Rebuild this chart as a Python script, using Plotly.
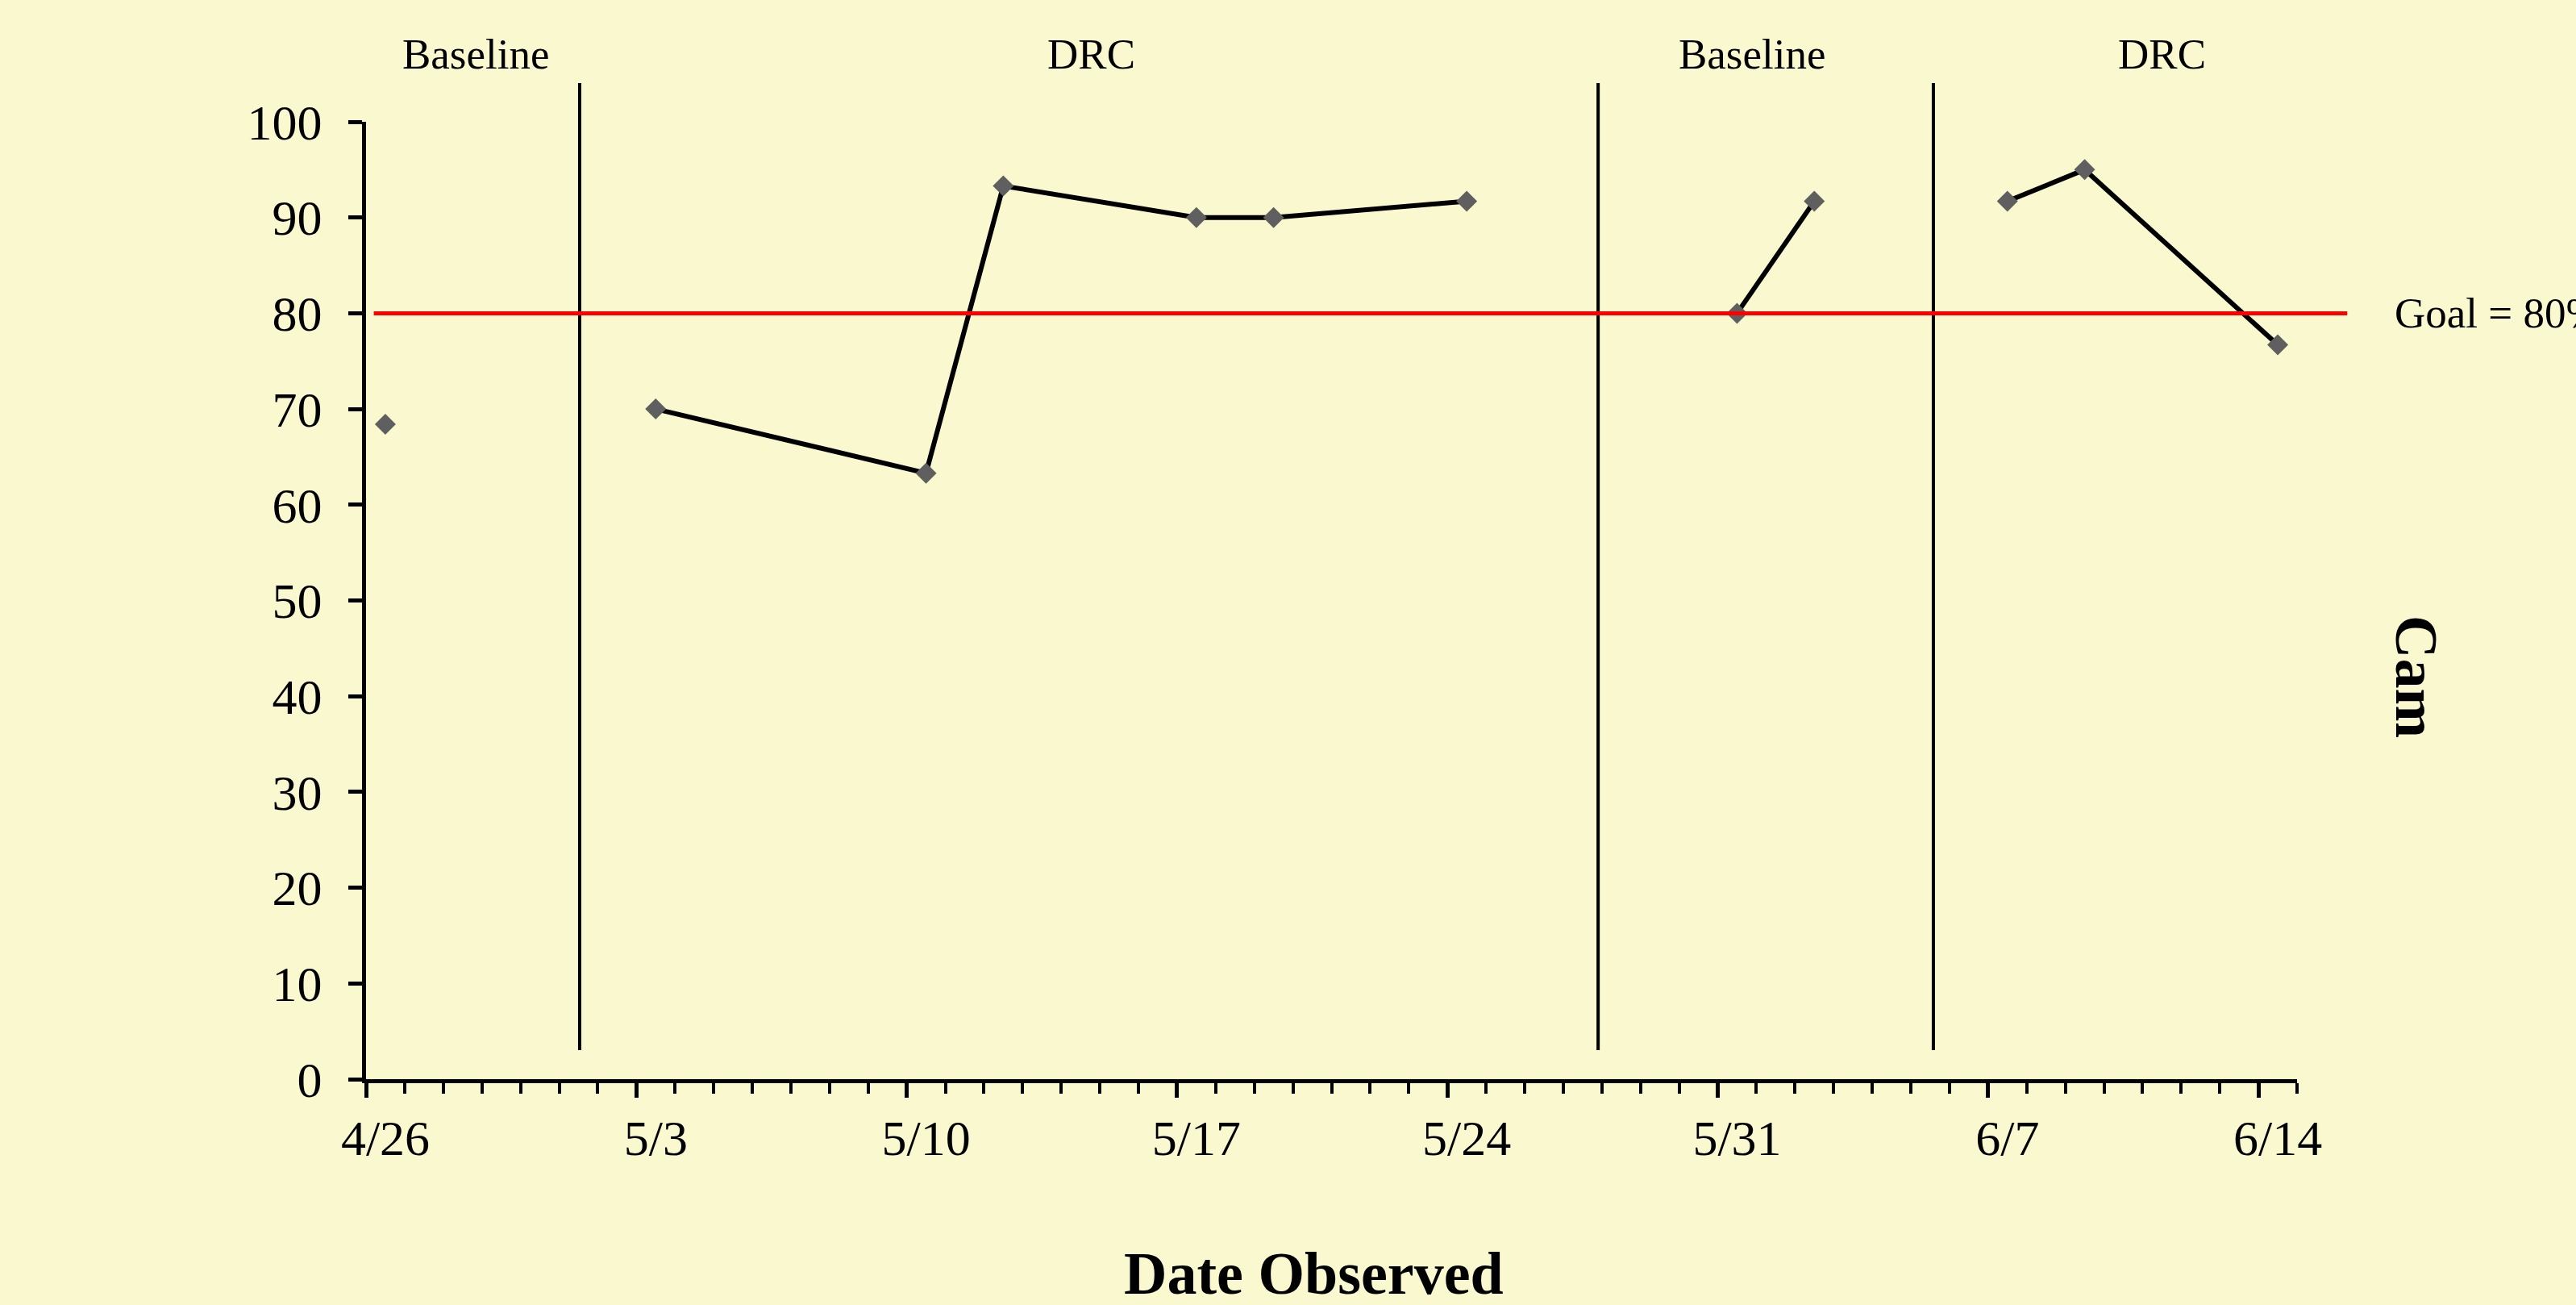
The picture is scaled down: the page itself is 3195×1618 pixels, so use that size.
import plotly.graph_objects as go
import pandas as pd

# ---- data ----
dates = ["2011-04-26", "2011-05-03", "2011-05-10", "2011-05-12", "2011-05-17", "2011-05-19",
         "2011-05-24", "2011-05-31", "2011-06-02", "2011-06-07", "2011-06-09", "2011-06-14"]
values = [68.4, 70.0, 63.3, 93.3, 90.0, 90.0, 91.7, 80.0, 91.7, 91.7, 95.0, 76.7]
phase_of_point = [0, 1, 1, 1, 1, 1, 1, 2, 2, 3, 3, 3]

phase_names = ["Baseline", "DRC", "Baseline", "DRC"]
phase_label_dates = ["2011-04-28 20:30", "2011-05-14 18:30", "2011-05-31 21:30", "2011-06-11 12:00"]
phase_change_dates = ["2011-05-01 12:45", "2011-05-27 21:40", "2011-06-05 14:00"]

goal_value = 80
goal_text = "Goal = 80%"
student = "Cam"
x_title = "Date Observed"

tick_dates = ["2011-04-26", "2011-05-03", "2011-05-10", "2011-05-17", "2011-05-24",
              "2011-05-31", "2011-06-07", "2011-06-14"]
tick_text = ["4/26", "5/3", "5/10", "5/17", "5/24", "5/31", "6/7", "6/14"]
x_range = ["2011-04-26", "2011-06-15"]
y_ticks = [0, 10, 20, 30, 40, 50, 60, 70, 80, 90, 100]

# ---- style ----
BG = "#FAF8CF"
FONT = "Liberation Serif"
MARKER = "#5F5F5F"

# points sit in the middle of their day cell
x_pts = [pd.Timestamp(d) + pd.Timedelta(hours=12) for d in dates]

fig = go.Figure()
for ph in sorted(set(phase_of_point)):
    xs = [x for x, p in zip(x_pts, phase_of_point) if p == ph]
    ys = [v for v, p in zip(values, phase_of_point) if p == ph]
    fig.add_trace(go.Scatter(
        x=xs, y=ys, mode="lines+markers",
        line=dict(color="black", width=6),
        marker=dict(symbol="diamond", size=20, color=MARKER),
        showlegend=False, hoverinfo="skip",
    ))

shapes = []
for d in phase_change_dates:
    shapes.append(dict(type="line", xref="x", yref="paper", x0=d, x1=d, y0=0.0303, y1=1.0404,
                       line=dict(color="black", width=4)))
shapes.append(dict(type="line", xref="paper", yref="y", x0=0.004, x1=1.026,
                   y0=goal_value, y1=goal_value, line=dict(color="#FF0000", width=5)))

annotations = []
for name, d in zip(phase_names, phase_label_dates):
    annotations.append(dict(text=name, xref="x", yref="paper", x=d, y=1.0708,
                            xanchor="center", yanchor="middle", showarrow=False,
                            font=dict(family=FONT, size=53, color="black")))
annotations.append(dict(text=goal_text, xref="paper", yref="y", x=1.0497, y=goal_value,
                        xanchor="left", yanchor="middle", showarrow=False,
                        font=dict(family=FONT, size=53, color="black")))
annotations.append(dict(text="<b>" + student + "</b>", xref="paper", yref="paper", x=1.0618, y=0.4204,
                        xanchor="center", yanchor="middle", showarrow=False, textangle=90,
                        font=dict(family=FONT, size=74, color="black")))
annotations.append(dict(text="<b>" + x_title + "</b>", xref="paper", yref="paper", x=0.491, y=-0.2030,
                        xanchor="center", yanchor="middle", showarrow=False,
                        font=dict(family=FONT, size=74, color="black")))

fig.update_layout(
    width=3195, height=1618,
    margin=dict(l=454, r=346, t=151, b=280, pad=0),
    paper_bgcolor=BG, plot_bgcolor=BG,
    shapes=shapes, annotations=annotations,
    showlegend=False,
    xaxis=dict(
        type="date", range=x_range,
        tickmode="array", tickvals=tick_dates, ticktext=tick_text,
        ticks="outside", ticklen=18, tickwidth=5, tickcolor="black",
        ticklabelshift=24, ticklabelstandoff=-3,
        minor=dict(ticks="outside", ticklen=13, tickwidth=4, tickcolor="black",
                   tickmode="linear", tick0="2011-04-26", dtick=86400000),
        showline=True, linewidth=5, linecolor="black",
        showgrid=False, zeroline=False,
        tickfont=dict(family=FONT, size=62, color="black"),
    ),
    yaxis=dict(
        range=[0, 100], tickmode="array", tickvals=y_ticks,
        ticks="outside", ticklen=17, tickwidth=5, tickcolor="black",
        ticklabelstandoff=20,
        showline=True, linewidth=5, linecolor="black",
        showgrid=False, zeroline=False,
        tickfont=dict(family=FONT, size=62, color="black"),
    ),
)

fig.write_html("out.html", config={"displayModeBar": False},
               post_script="document.body.style.margin='0';")
